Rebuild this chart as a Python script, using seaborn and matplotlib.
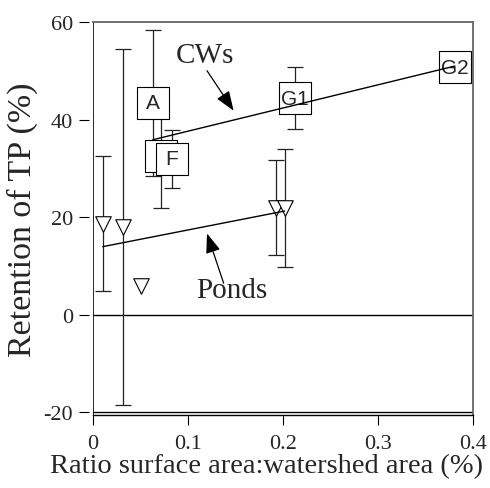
import numpy as np
import matplotlib
matplotlib.use("Agg")
import matplotlib.pyplot as plt
import seaborn as sns

# Constructed wetlands (squares with labels)
cw_labels = ["A", "", "F", "G1", "G2"]
cw_ratio = [0.063, 0.072, 0.083, 0.213, 0.381]
cw_ret = [43.5, 32.5, 32.0, 44.5, 50.8]
cw_err = [15.0, 10.5, 6.0, 6.3, np.nan]

# Ponds (open triangles)
pond_ratio = [0.0103, 0.0314, 0.0508, 0.1925, 0.2017]
pond_ret = [18.7, 18.0, 5.9, 22.0, 22.0]
pond_err = [13.9, 36.6, np.nan, 9.8, 12.1]

sns.set_style("ticks")
plt.rcParams["font.family"] = ["Liberation Serif", "DejaVu Serif"]
plt.rcParams["axes.unicode_minus"] = False

fig = plt.figure(figsize=(4.9, 4.89), dpi=100)
ax = fig.add_axes([0.1898, 0.1493, 0.7755, 0.8027])

# error bars first, so boxes / markers sit on top
ax.errorbar(cw_ratio, cw_ret, yerr=cw_err, fmt="none", ecolor="#222222",
            elinewidth=0.9, capsize=5.5, capthick=0.9, zorder=2)
ax.errorbar(pond_ratio, pond_ret, yerr=pond_err, fmt="none", ecolor="#222222",
            elinewidth=0.9, capsize=5.5, capthick=0.9, zorder=2)

# square boxes with the wetland names
for i, (x, y, lab) in enumerate(zip(cw_ratio, cw_ret, cw_labels)):
    z = 3 + i * 0.1
    ax.scatter([x], [y], marker="s", s=500, facecolor="white",
               edgecolor="black", linewidth=0.8, zorder=z)
    ax.text(x, y, lab, ha="center", va="center", fontsize=15,
            family=["Liberation Sans", "DejaVu Sans"], zorder=z + 0.05)

ax.scatter(pond_ratio, pond_ret, marker="v", s=125, facecolor="white",
           edgecolor="black", linewidth=0.8, zorder=4)

# fitted lines
sns.regplot(x=cw_ratio, y=cw_ret, ax=ax, scatter=False, ci=None, truncate=True,
            line_kws=dict(color="black", lw=1, zorder=5))
sns.regplot(x=pond_ratio, y=pond_ret, ax=ax, scatter=False, ci=None, truncate=True,
            line_kws=dict(color="black", lw=1, zorder=5))

ax.axhline(0, color="black", lw=1, zorder=1)
ax.axhline(-20, color="black", lw=1, zorder=1)
ax.axvline(0, color="black", lw=1.2, zorder=1)

# annotations
ax.text(0.118, 53.3, "CWs", ha="center", va="center", fontsize=21)
ax.annotate("", xy=(0.148, 41.9), xytext=(0.120, 50.1),
            arrowprops=dict(arrowstyle="-|>,head_length=0.8,head_width=0.3",
                            mutation_scale=15, color="black", lw=0.9,
                            shrinkA=0, shrinkB=0))
ax.text(0.1456, 5.0, "Ponds", ha="center", va="center", fontsize=21)
ax.annotate("", xy=(0.120, 16.7), xytext=(0.1375, 6.5),
            arrowprops=dict(arrowstyle="-|>,head_length=0.8,head_width=0.3",
                            mutation_scale=15, color="black", lw=0.9,
                            shrinkA=0, shrinkB=0))

ax.set_xlim(0, 0.4)
ax.set_ylim(-20.55, 60)
ax.set_xticks([0, 0.1, 0.2, 0.3, 0.4])
ax.set_xticklabels(["0", "0.1", "0.2", "0.3", "0.4"])
ax.set_yticks([-20, 0, 20, 40, 60])

ax.spines["left"].set_position(("outward", 3))
ax.spines["left"].set_visible(False)
for side in ["top", "right"]:
    ax.spines[side].set_color("#666666")
    ax.spines[side].set_linewidth(1.3)
ax.spines["bottom"].set_color("black")
ax.spines["bottom"].set_linewidth(1)

ax.tick_params(axis="both", direction="out", length=7.5, width=0.8,
               color="black", labelsize=16, pad=4)
ax.tick_params(axis="x", pad=6)

ax.set_xlabel("Ratio surface area:watershed area (%)", fontsize=20.5)
ax.xaxis.set_label_coords(0.457, -0.097)
ax.set_ylabel("Retention of TP (%)", fontsize=24.5, labelpad=4)

fig.savefig("out.png", dpi=100)
